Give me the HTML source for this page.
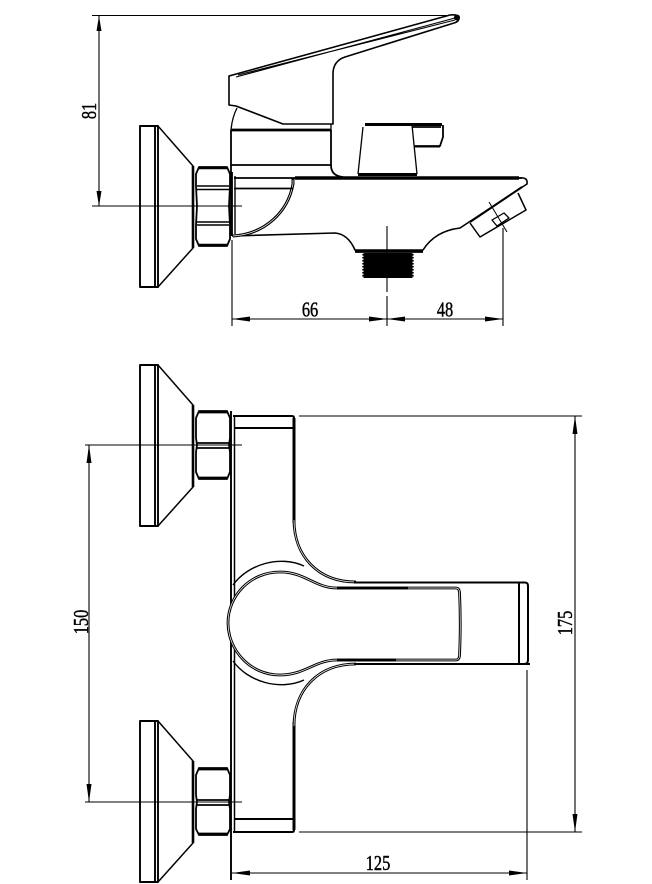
<!DOCTYPE html>
<html><head><meta charset="utf-8"><style>
html,body{margin:0;padding:0;background:#fff}
svg{display:block}
text{font-family:"Liberation Serif",serif;font-size:21px;font-weight:400;fill:#000;stroke:#000;stroke-width:.45px}
</style></head><body>
<svg width="652" height="884" viewBox="0 0 652 884" xmlns="http://www.w3.org/2000/svg" fill="none" stroke="#000" stroke-width="1.5" stroke-linejoin="round">
<defs>
<g id="plateS">
<path d="M140 0H155V161H140Z M155 0H158V161H155" stroke-width="1.900"/>
<path d="M158 0L193 40V122L158 161" stroke-width="1.500"/>
<path d="M193 40V122" stroke-width="2.600"/>
</g>
</defs>

<!-- SIDE VIEW -->
<g>
<path d="M92 15.5H456M99 16V206M232 240V326M387 226V292" stroke-width="1.100"/>
<path d="M387 296V326M503 228V326M232 319H503M92 206H126" stroke-width="1.100"/>
<path d="M99 16l-2.500 15h5zM99 206l-2.500-15h5zM232 319l18-2.500v5zM387 319l-18-2.500v5zM387 319l18-2.500v5zM503 319l-18-2.500v5z" fill="#000" stroke="none"/>
<path d="M125 206H242" stroke-width="1.100"/>
<use href="#plateS" y="126"/>
<!-- nut -->
<path d="M199 167H227L230 174V186L229 206L230 225V239L227 246H199L196 239V225L197 206L196 186V174Z" stroke-width="1.800"/>
<path d="M197 186H229M197 189.500H229M197 222H229M197 225H229" stroke-width="1.500"/>
<path d="M199 168H227M199 245H227" stroke-width="2.600"/>
<path d="M231.500 172V236" stroke-width="2.800"/>
<path d="M235 176V234" stroke-width="1.400"/>
<!-- handle -->
<path d="M229 76L450 15Q459 14 459 19Q458 22 454 23L345 57Q333 61 333 74V124H283L236 106L229 105Z" stroke-width="1.600" fill="#fff"/>
<path d="M236 77L455 18M238 75L455 20" stroke-width="1.100"/>
<circle cx="457" cy="17.500" r="3" fill="#000" stroke="none"/>
<path d="M237 108Q232 118 231 130M331 124V130" stroke-width="1.300"/>
<path d="M231 130H331" stroke-width="2.800"/>
<path d="M231 130V178M331 130V165Q331 176 343 177M231 165H331" stroke-width="1.800"/>
<!-- knob -->
<path d="M363 127L358 174M412 125L417 174" stroke-width="1.300"/>
<path d="M365 124.500H442M358 174.500H417" stroke-width="3"/>
<path d="M412 127H441M443 125V137L440 146H415" stroke-width="1.800"/>
<path d="M414 146.500H440" stroke-width="2"/>
<!-- spout -->
<path d="M295 178H520Q528 177 527 184L460 228Q435 231 423 250H355Q348 234 335 233L232 236" stroke-width="1.600"/>
<path d="M234 178H522" stroke-width="1.700"/>
<path d="M295 178H519" stroke-width="3.400"/>
<path d="M355 251.500H423" stroke-width="2.800"/>
<path d="M293 178V184C288 212 265 234 233 236" stroke-width="3"/>
<path d="M293 180V184C288 212 265 234 233 236" stroke="#fff" stroke-width="0.700"/>
<path d="M234 188.500H293" stroke-width="1.800"/>
<path d="M522 187L470 222" stroke-width="2"/>
<!-- aerator -->
<path d="M470 223L480 237L526 210L518 193" stroke-width="1.500"/>
<path d="M492 220L504 213L509 218L497 226Z" stroke-width="1.300"/>
<path d="M489 202L507 232" stroke-width="1"/>
<!-- thread -->
<rect x="363.500" y="253" width="49" height="25" fill="#000" stroke="none"/>
<path d="M363 254V278M413 254V278" stroke-width="1.500" stroke-dasharray="1.500 1.500"/>
<text transform="translate(310 316.500) scale(.78 1)" text-anchor="middle">66</text>
<text transform="translate(445 316.500) scale(.78 1)" text-anchor="middle">48</text>
<text transform="translate(96 111) rotate(-90) scale(.78 1)" text-anchor="middle">81</text>
</g>

<!-- TOP VIEW -->
<g>
<use href="#plateS" y="365"/>
<use href="#plateS" y="721"/>
<!-- upper nut -->
<path d="M199 411H227L230 418V438L229 445L230 452V472L227 479H199L196 472V452L197 445L196 438V418Z" stroke-width="1.800"/>
<path d="M197 443H229M197 448H229" stroke-width="1.800"/>
<path d="M198 412H228M198 478H228" stroke-width="2.800"/>
<!-- lower nut -->
<path d="M199 768H227L230 775V795L229 802L230 809V829L227 835H199L196 829V809L197 802L196 795V775Z" stroke-width="1.800"/>
<path d="M197 800H229M197 805H229" stroke-width="1.800"/>
<path d="M198 769H228M198 834H228" stroke-width="2.800"/>
<path d="M85 445H242M85 802H242" stroke-width="1.100"/>
<path d="M89 445V802" stroke-width="1.100"/>
<path d="M89 445l-2.500 18h5zM89 802l-2.500-18h5z" fill="#000" stroke="none"/>
<!-- body -->
<path d="M231 411V880" stroke-width="1.900"/>
<path d="M234.500 416V832" stroke-width="1.500"/>
<path d="M233 416H292Q294 416 294 418M233 832H292Q294 832 294 830M234 428H294M234 819H294" stroke-width="2"/>
<path d="M294 418V523M294 722V830" stroke-width="3"/>
<!-- curves -->
<path d="M294 520C294 556 318 582 356 582M356 664C318 664 294 690 294 726" stroke-width="2.800"/>
<path d="M294 520C294 556 318 582 356 582M356 664C318 664 294 690 294 726" stroke="#fff" stroke-width="0.700"/>
<path d="M354 582.500H524Q528 582 528 586V660Q528 664 524 664H354" stroke-width="2"/>
<path d="M354 664H530M519 583V664" stroke-width="2"/>
<!-- outer arc -->
<path d="M233 585C248 564 280 555 304 566M233 661C248 682 280 691 304 680" stroke-width="1.400"/>
<!-- handle -->
<path d="M337 588H456Q459 588 459.500 592Q461 623 459.500 656Q459 660 456 660H337C315 660 305 675 280 675C250 675 228 650 228 623C228 596 250 572 280 572C305 572 315 588 337 588Z" stroke-width="2.800" fill="#fff"/>
<path d="M337 588H456Q459 588 459.500 592Q461 623 459.500 656Q459 660 456 660H337C315 660 305 675 280 675C250 675 228 650 228 623C228 596 250 572 280 572C305 572 315 588 337 588Z" stroke="#fff" stroke-width="0.700"/>
<path d="M337 588H408M337 660H396" stroke-width="2.800"/>
<!-- dims -->
<path d="M299 416H582M299 832H582M575 416V832M527 670V880M232 873H527" stroke-width="1.100"/>
<path d="M575 416l-2.500 18h5zM575 832l-2.500-18h5zM232 873l18-2.500v5zM527 873l-18-2.500v5z" fill="#000" stroke="none"/>
<text transform="translate(88 622) rotate(-90) scale(.78 1)" text-anchor="middle">150</text>
<text transform="translate(572 623) rotate(-90) scale(.78 1)" text-anchor="middle">175</text>
<text transform="translate(378 870) scale(.78 1)" text-anchor="middle">125</text>
</g>
</svg>
</body></html>
